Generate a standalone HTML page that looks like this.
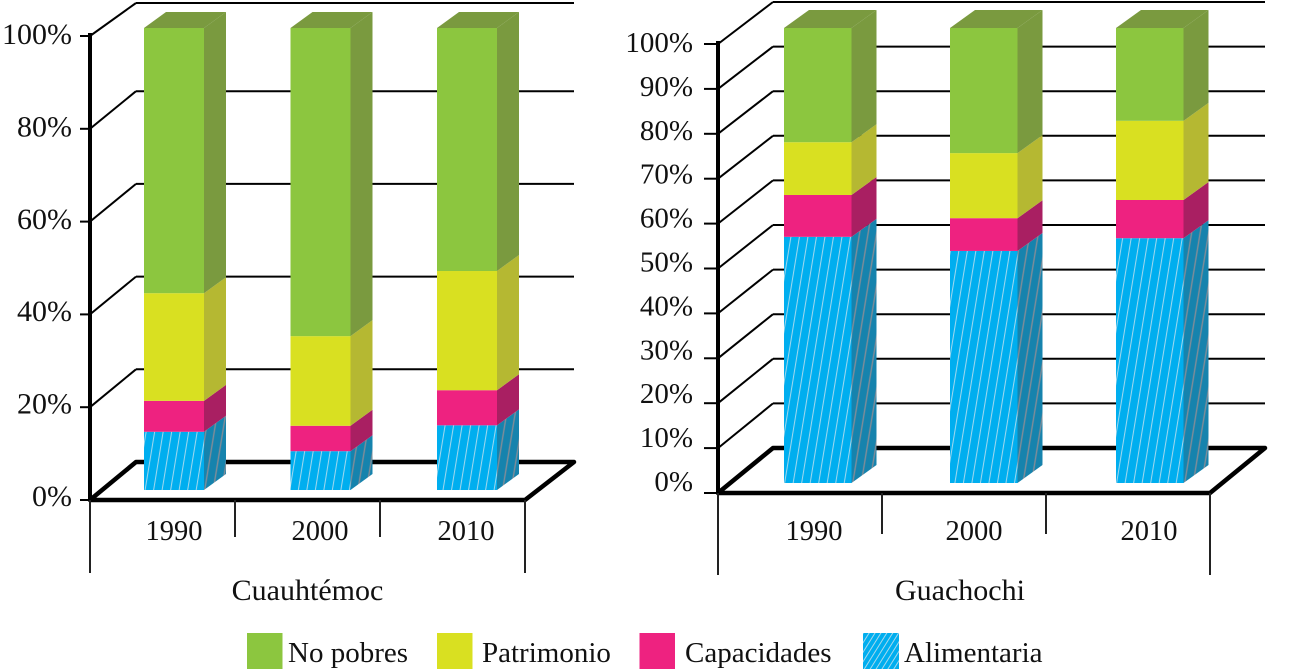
<!DOCTYPE html>
<html lang="es">
<head>
<meta charset="utf-8">
<title>Pobreza en Cuauhtémoc y Guachochi</title>
<style>
  html, body { margin: 0; padding: 0; background: #fff; }
  body { width: 1289px; height: 671px; overflow: hidden; }
  svg { display: block; }
  text { font-family: "Liberation Serif", serif; fill: #111; }
</style>
</head>
<body>
<svg id="chart" xmlns="http://www.w3.org/2000/svg" width="1289" height="671" viewBox="0 0 1289 671">
  <defs>
    <pattern id="hatch-front" patternUnits="userSpaceOnUse" width="8.4" height="40" patternTransform="rotate(9.3)">
      <rect width="8.4" height="40" fill="#00aeef"/>
      <line x1="4" y1="0" x2="4" y2="40" stroke="#a5d9ee" stroke-width="1"/>
    </pattern>
    <pattern id="hatch-side" patternUnits="userSpaceOnUse" width="8.4" height="40" patternTransform="rotate(9.3)">
      <rect width="8.4" height="40" fill="#1683ad"/>
      <line x1="4" y1="0" x2="4" y2="40" stroke="#808c98" stroke-width="1.4"/>
    </pattern>
    <pattern id="hatch-legend" patternUnits="userSpaceOnUse" width="5" height="20" patternTransform="rotate(32)">
      <rect width="5" height="20" fill="#00aeef"/>
      <line x1="2.5" y1="0" x2="2.5" y2="20" stroke="#a5d9ee" stroke-width="1"/>
    </pattern>
  </defs>
  <g id="plots"></g>
  <text x="307.5" y="600" text-anchor="middle" font-size="30">Cuauhtémoc</text>
  <text x="960" y="600" text-anchor="middle" font-size="30">Guachochi</text>
  <g>
    <g>
      <rect x="247" y="633" width="35.5" height="36" fill="#8cc63f"/>
      <text x="288" y="662" font-size="29">No pobres</text>
    </g>
    <g>
      <rect x="437" y="633" width="35.5" height="36" fill="#d9e021"/>
      <text x="482" y="662" font-size="29">Patrimonio</text>
    </g>
    <g>
      <rect x="639.5" y="633" width="35.5" height="36" fill="#ee2280"/>
      <text x="685" y="662" font-size="29">Capacidades</text>
    </g>
    <g>
      <rect x="863" y="633" width="36" height="36" fill="url(#hatch-legend)"/>
      <text x="904" y="662" font-size="29">Alimentaria</text>
    </g>
  </g>
</svg>
<script>
// ---- data ----
const categories = ['1990', '2000', '2010'];
const seriesKeys = ['alimentaria', 'capacidades', 'patrimonio', 'no-pobres'];

const cuauhtemocAlimentaria = [12.6, 8.4, 14.0];
const cuauhtemocCapacidades = [6.7, 5.5, 7.6];
const cuauhtemocPatrimonio  = [23.3, 19.4, 25.8];
const cuauhtemocNoPobres    = [57.4, 66.7, 52.6];
const cuauhtemocTicks = ['0%', '20%', '40%', '60%', '80%', '100%'];

const guachochiAlimentaria = [54.1, 51.0, 53.8];
const guachochiCapacidades = [9.2, 7.2, 8.4];
const guachochiPatrimonio  = [11.6, 14.3, 17.4];
const guachochiNoPobres    = [25.1, 27.5, 20.4];
const guachochiTicks = ['0%', '10%', '20%', '30%', '40%', '50%', '60%', '70%', '80%', '90%', '100%'];

const faceFront = ['url(#hatch-front)', '#ee2280', '#d9e021', '#8cc63f'];
const faceSide  = ['url(#hatch-side)', '#a91f62', '#b5b832', '#7a9a3f'];

const SVGNS = 'http://www.w3.org/2000/svg';
const plots = document.getElementById('plots');

function shape(tag, attrs, parent) {
  const el = document.createElementNS(SVGNS, tag);
  for (const k in attrs) el.setAttribute(k, attrs[k]);
  parent.appendChild(el);
  return el;
}

function drawChart(cfg, series, ticks) {
  const root = shape('g', {}, plots);
  
  

  // axis functions
  const frontY = t => cfg.y0 + (cfg.y100 - cfg.y0) * t;
  const backY  = t => Math.max(cfg.by0 + (cfg.by100 - cfg.by0) * t, cfg.backTop);
  const labelY = t => cfg.ly0 + (cfg.ly100 - cfg.ly0) * t;
  const barY   = v => cfg.barY0 + (cfg.barY100 - cfg.barY0) * v / 100;
  const barX   = i => cfg.barX0 + cfg.barStep * i;
  const n = ticks.length - 1;

  // grid + ticks + labels
  ticks.forEach((label, i) => {
    const t = i / n;
    if (i > 0) {
      const back = shape('line', {x1: cfg.bx0, y1: backY(t), x2: cfg.bx1, y2: backY(t), stroke: '#000', 'stroke-width': 2}, root);
      
      
      const diag = shape('line', {x1: cfg.x0, y1: frontY(t), x2: cfg.bx0, y2: backY(t), stroke: '#000', 'stroke-width': 2}, root);
      
      
    }
    const tick = shape('line', {x1: cfg.x0 - cfg.tickLen, y1: frontY(t), x2: cfg.x0, y2: frontY(t), stroke: '#000', 'stroke-width': 2}, root);
    
    
    const txt = shape('text', {x: cfg.labelRight, y: labelY(t) + 10, 'text-anchor': 'end', 'font-size': cfg.labelSize}, root);
    txt.textContent = label;
    
    
  });

  // floor
  const floor = shape('path', {
    d: `M${cfg.x0} ${cfg.y0} L${cfg.bx0} ${cfg.by0} L${cfg.bx1} ${cfg.by0} L${cfg.x1} ${cfg.y0} Z`,
    fill: 'none', stroke: '#000', 'stroke-width': 4.5, 'stroke-linejoin': 'round'
  }, root);
  
  

  // y axis
  const axis = shape('line', {x1: cfg.x0, y1: cfg.y100 - 3, x2: cfg.x0, y2: cfg.y0, stroke: '#000', 'stroke-width': 4}, root);
  
  

  // category separators
  const count = categories.length;
  for (let i = 0; i <= count; i++) {
    const x = cfg.x0 + (cfg.x1 - cfg.x0) * i / count;
    const edge = i === 0 || i === count;
    const sep = shape('line', {x1: x, y1: cfg.y0, x2: x, y2: edge ? cfg.dropLong : cfg.dropShort, stroke: '#222', 'stroke-width': 2}, root);
    
    
  }

  // bars
  categories.forEach((cat, i) => {
    const group = shape('g', {}, root);
    
    
    const x = barX(i);
    const w = cfg.barW;
    let cum = 0;
    series.forEach((vals, s) => {
      const yb = barY(cum);
      cum += vals[i];
      const yt = barY(cum);
      const side = shape('path', {
        d: `M${x + w} ${yb} L${x + w + cfg.dx} ${yb - cfg.dy} L${x + w + cfg.dx} ${yt - cfg.dy} L${x + w} ${yt} Z`,
        fill: faceSide[s]
      }, group);
      
      
      const front = shape('rect', {x: x, y: yt, width: w, height: yb - yt, fill: faceFront[s]}, group);
      
      
      if (s === series.length - 1) {
        const top = shape('path', {
          d: `M${x} ${yt} L${x + cfg.dx} ${yt - cfg.dy} L${x + w + cfg.dx} ${yt - cfg.dy} L${x + w} ${yt} Z`,
          fill: faceSide[s]
        }, group);
        
        
      }
    });
    const lab = shape('text', {x: cfg.catX0 + cfg.catStep * i + cfg.catNudge[i], y: 540, 'text-anchor': 'middle', 'font-size': 28.5}, root);
    lab.textContent = cat;
    
    
  });
}

drawChart({
  name: 'chart-cuauhtemoc',
  x0: 90, x1: 525, y0: 500, y100: 36, bx0: 136, bx1: 574, by0: 462, by100: -1.5, backTop: 3,
  ly0: 496, ly100: 34, labelRight: 72, labelSize: 30, tickLen: 10, dropLong: 573, dropShort: 537,
  barX0: 144, barStep: 146.5, barW: 60, barY0: 490, barY100: 28, dx: 22, dy: 16,
  catX0: 174, catStep: 146, catNudge: [0, 0, 0]
}, [cuauhtemocAlimentaria, cuauhtemocCapacidades, cuauhtemocPatrimonio, cuauhtemocNoPobres], cuauhtemocTicks);

drawChart({
  name: 'chart-guachochi',
  x0: 718, x1: 1210, y0: 493, y100: 44, bx0: 773, bx1: 1265, by0: 448, by100: 2, backTop: 0,
  ly0: 481, ly100: 42, labelRight: 693, labelSize: 29, tickLen: 14, dropLong: 575, dropShort: 534,
  barX0: 784, barStep: 166, barW: 67.5, barY0: 483, barY100: 28, dx: 25, dy: 18,
  catX0: 814, catStep: 167.5, catNudge: [0, -7.5, 0]
}, [guachochiAlimentaria, guachochiCapacidades, guachochiPatrimonio, guachochiNoPobres], guachochiTicks);
</script>
</body>
</html>
